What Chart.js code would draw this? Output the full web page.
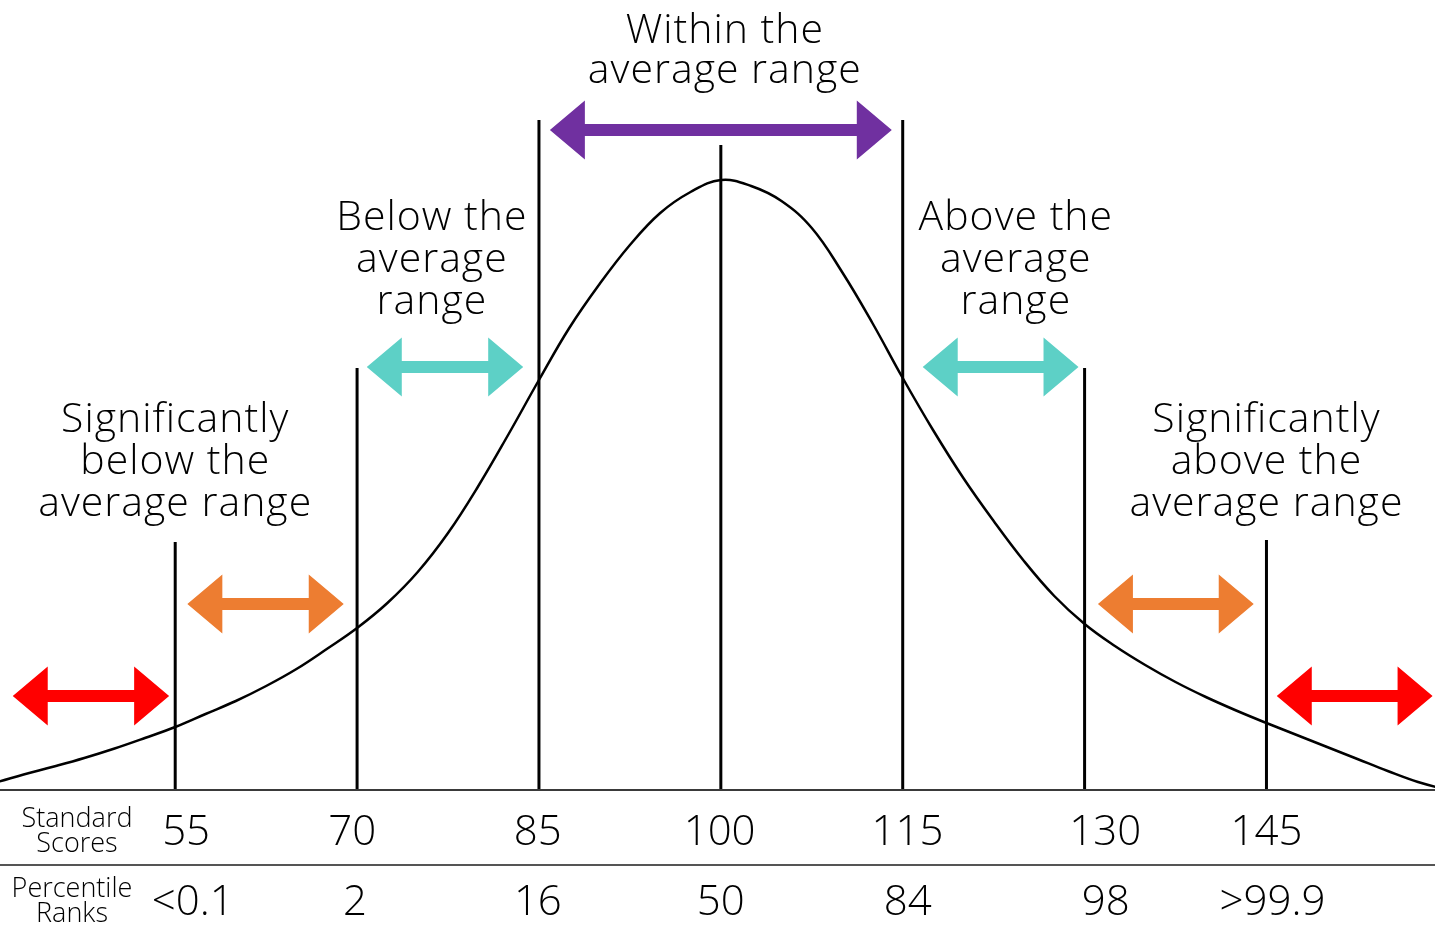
<!DOCTYPE html>
<html>
<head>
<meta charset="utf-8">
<script src="https://cdn.jsdelivr.net/npm/chart.js@4/dist/chart.umd.min.js"></script>
<style>
  html, body { margin: 0; padding: 0; background: #ffffff; }
  #wrap { width: 1435px; height: 928px; }
</style>
</head>
<body>
<div id="wrap"><canvas id="c" width="1435" height="928"></canvas></div>
<script>
// ---- data ----
const scores = [55, 70, 85, 100, 115, 130, 145];
const percentiles = ['<0.1', '2', '16', '50', '84', '98', '>99.9'];
const markerTops = [248, 422, 670, 645, 670, 422, 250];

const curveScores = [37.5, 40, 42.5, 45, 47.5, 50, 52.5, 55, 57.5, 60, 62.5, 65, 67.5, 70, 72.5, 75, 77.5, 80,
  82.5, 85, 87.5, 90, 92.5, 95, 97.5, 100, 102.5, 105, 107.5, 110, 112.5, 115, 117.5, 120, 122.5, 125,
  127.5, 130, 132.5, 135, 137.5, 140, 142.5, 145, 147.5, 150, 152.5, 155, 157.5, 160];
const curveHeights = [0, 7, 15.5, 23.5, 32, 41.5, 52, 63, 76, 89, 104, 121, 141, 162, 187, 218, 257, 304,
  356, 410, 462, 506, 545, 577, 598, 610, 604, 589, 562, 518, 467, 412, 360, 312, 269, 229,
  194, 166, 144, 125, 108, 93, 79.5, 67, 55, 43, 31, 19, 8, 0];

const rangeFrom = [41.6, 145.85, 56.0, 131.1, 70.8, 116.65, 85.9];
const rangeTo = [54.5, 158.7, 68.9, 143.95, 83.7, 129.5, 114.1];
const rangeLevel = [94, 94, 186, 186, 423, 423, 660];
const rangeColors = ['#FF0000', '#FF0000', '#ED7D31', '#ED7D31', '#5DD0C6', '#5DD0C6', '#7030A0'];

const FONT = '"Open Sans", "Noto Sans", sans-serif';

// ---- datasets ----
const datasets = [{
  data: curveScores.map((s, i) => ({ x: s, y: curveHeights[i] })),
  borderColor: '#000000', borderWidth: 2.5, pointRadius: 0, tension: 0.4,
  fill: false, clip: false
}];
scores.forEach((s, i) => {
  datasets.push({
    data: [{ x: s, y: 0 }, { x: s, y: markerTops[i] }],
    borderColor: '#000000', borderWidth: 3, pointRadius: 0, fill: false, clip: false
  });
});

const annot = {
  id: 'annot',
  afterDatasetsDraw(chart) {
    const ctx = chart.ctx;
    const xs = chart.scales.x, ys = chart.scales.y;
    const W = chart.width;
    ctx.save();
    // arrows
    const hl = 35, hh = 29.5, sh = 6;
    rangeFrom.forEach((f, i) => {
      const xa = xs.getPixelForValue(f), xb = xs.getPixelForValue(rangeTo[i]);
      const yc = ys.getPixelForValue(rangeLevel[i]);
      ctx.beginPath();
      ctx.moveTo(xa, yc);
      ctx.lineTo(xa + hl, yc - hh);
      ctx.lineTo(xa + hl, yc - sh);
      ctx.lineTo(xb - hl, yc - sh);
      ctx.lineTo(xb - hl, yc - hh);
      ctx.lineTo(xb, yc);
      ctx.lineTo(xb - hl, yc + hh);
      ctx.lineTo(xb - hl, yc + sh);
      ctx.lineTo(xa + hl, yc + sh);
      ctx.lineTo(xa + hl, yc + hh);
      ctx.closePath();
      ctx.fillStyle = rangeColors[i];
      ctx.fill();
    });

    // range labels
    const labels = [
      { x: 100.33, y: [747, 707], t: ['Within the', 'average range'] },
      { x: 76.17, y: [560, 518, 476], t: ['Below the', 'average', 'range'] },
      { x: 124.33, y: [560, 518, 476], t: ['Above the', 'average', 'range'] },
      { x: 55, y: [358, 316, 274], t: ['Significantly', 'below the', 'average range'] },
      { x: 145, y: [358, 316, 274], t: ['Significantly', 'above the', 'average range'] }
    ];
    ctx.fillStyle = '#000000';
    ctx.textAlign = 'center';
    ctx.textBaseline = 'alphabetic';
    ctx.font = '300 41px ' + FONT;
    ctx.letterSpacing = '1px';
    labels.forEach(l => {
      const px = xs.getPixelForValue(l.x);
      l.t.forEach((line, j) => ctx.fillText(line, px, ys.getPixelForValue(l.y[j])));
    });
    ctx.letterSpacing = '0px';

    // table
    const base = ys.getPixelForValue(0);
    ctx.strokeStyle = '#3a3a3a';
    ctx.lineWidth = 2;
    ctx.beginPath(); ctx.moveTo(0, base); ctx.lineTo(W, base); ctx.stroke();
    ctx.strokeStyle = '#555555';
    ctx.beginPath(); ctx.moveTo(0, base + 75); ctx.lineTo(W, base + 75); ctx.stroke();

    ctx.font = '300 27px ' + FONT;
    ctx.fillText('Standard', 77, base + 37);
    ctx.fillText('Scores', 77, base + 62);
    ctx.fillText('Percentile', 72, base + 107);
    ctx.fillText('Ranks', 72, base + 132);

    const scoreOffset = [0.9, -0.4, -0.1, -0.1, 0.4, 1.7, 0];
    const pctOffset = [1.45, -0.18, -0.09, 0, 0.42, 1.75, 0.5];
    ctx.font = '300 42px ' + FONT;
    scores.forEach((s, i) => {
      ctx.fillText(String(s), xs.getPixelForValue(s + scoreOffset[i]), base + 55);
      ctx.fillText(percentiles[i], xs.getPixelForValue(s + pctOffset[i]), base + 125);
    });
    ctx.restore();
  }
};

new Chart(document.getElementById('c'), {
  type: 'line',
  data: { datasets },
  options: {
    responsive: false,
    animation: false,
    devicePixelRatio: 1,
    layout: { padding: { left: 0, right: 0, top: 0, bottom: 138 } },
    plugins: { legend: { display: false }, tooltip: { enabled: false } },
    scales: {
      x: { type: 'linear', min: 40.55, max: 158.9, display: false },
      y: { type: 'linear', min: 0, max: 790, display: false }
    }
  },
  plugins: [annot]
});
</script>
</body>
</html>
